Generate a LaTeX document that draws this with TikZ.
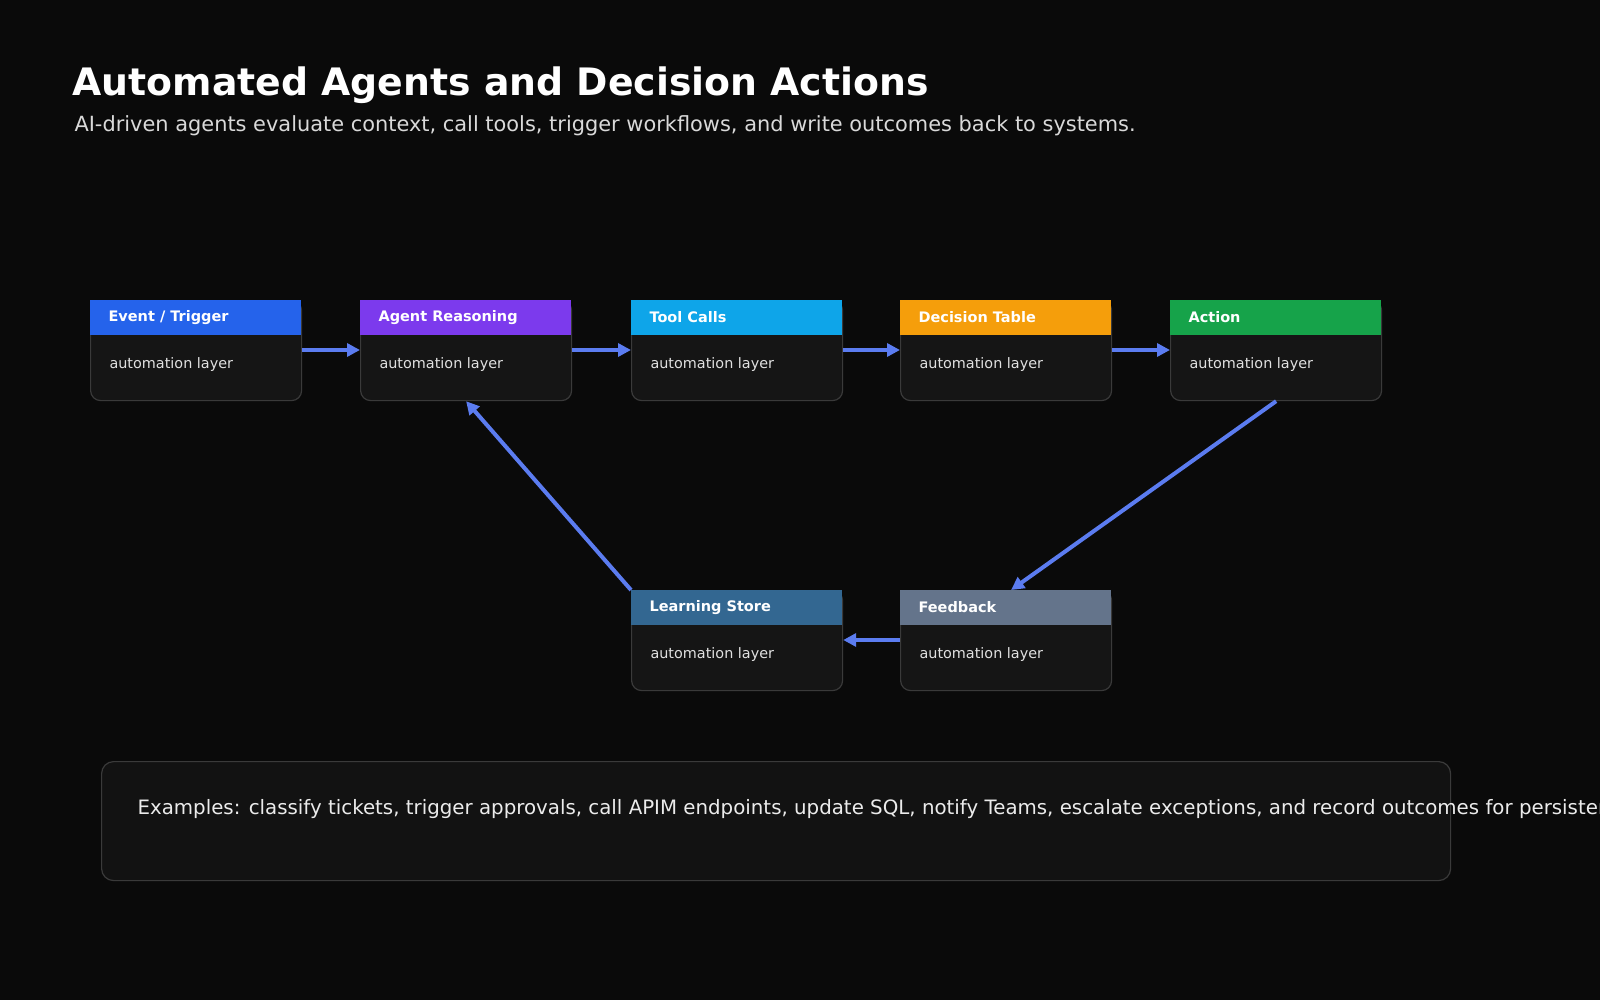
\documentclass[tikz,border=0pt]{standalone}
\usepackage{fontspec}
\setmainfont{DejaVu Sans}
\usetikzlibrary{positioning,calc,arrows.meta}
\definecolor{bg}{HTML}{0A0A0A}
\definecolor{card}{HTML}{151515}
\definecolor{edgec}{HTML}{3A3A3A}
\definecolor{flow}{HTML}{5B7CF0}
\definecolor{cEvent}{HTML}{2563EB}
\definecolor{cAgent}{HTML}{7C3AED}
\definecolor{cTool}{HTML}{0EA5E9}
\definecolor{cDecision}{HTML}{F59E0B}
\definecolor{cAction}{HTML}{16A34A}
\definecolor{cLearn}{HTML}{336791}
\definecolor{cFeed}{HTML}{64748B}
\tikzset{
  card/.style={draw=edgec,line width=1.2pt,fill=card,rounded corners=10pt,
    minimum width=211pt,minimum height=100pt,inner sep=0pt},
  htext/.style={font=\bfseries\fontsize{14.5}{16}\selectfont,text=white,anchor=west},
  btext/.style={font=\fontsize{14.4}{16}\selectfont,text=black!12,anchor=west},
  flowarrow/.style={draw=flow,line width=4pt,-{Triangle[length=13pt,width=13pt]}}
}
\begin{document}
\begin{tikzpicture}[x=1pt,y=-1pt]
  \fill[bg] (0,0) rectangle (1600,1000);
  \useasboundingbox (0,0) rectangle (1600,1000);
  \clip (0,0) rectangle (1600,1000);

  \node[anchor=base west,text=white,font=\bfseries\fontsize{37.8}{42}\selectfont] (title) at (69,96) {Automated Agents and Decision Actions};
  \node[anchor=base west,text=black!15,font=\fontsize{20.9}{24}\selectfont] (sub) at (71,132) {AI-driven agents evaluate context, call tools, trigger workflows, and write outcomes back to systems.};

  % cards
  \foreach \nm/\x/\y/\col/\lbl in {event/90/300/cEvent/{Event / Trigger}, agent/360/300/cAgent/Agent Reasoning,
      tool/631/300/cTool/Tool Calls, decision/900/300/cDecision/Decision Table, action/1170/300/cAction/Action,
      learn/631/590/cLearn/Learning Store, feed/900/590/cFeed/Feedback} {
    \node[card,anchor=north west] (\nm) at (\x,\y) {};
    \fill[\col] (\x,\y) rectangle ++(211,35);
    \node[htext] (\nm h) at (\x+15,\y+17.5) {\lbl};
    \node[btext] (\nm b) at (\x+16,\y+65) {automation layer};
  }

  \draw[flowarrow] (event.east |- 0,350) -- (agent.west |- 0,350);
  \draw[flowarrow] (agent.east |- 0,350) -- (tool.west |- 0,350);
  \draw[flowarrow] (tool.east |- 0,350) -- (decision.west |- 0,350);
  \draw[flowarrow] (decision.east |- 0,350) -- (action.west |- 0,350);
  \draw[flowarrow] (action.south) -- ($(feed.north)+(5,0)$);
  \draw[flowarrow] (feed.west |- 0,640) -- (learn.east |- 0,640);
  \draw[flowarrow] (learn.north west) -- (agent.south);

  % examples panel
  \node[draw=edgec,line width=1.2pt,fill=black!93,rounded corners=12pt,anchor=north west,
    minimum width=1349pt,minimum height=119pt,inner sep=0pt] (examples) at (101,761) {};
  \node[anchor=base west,text=black!8,font=\fontsize{19.8}{24}\selectfont] (extext) at (134,814)
    {Examples: classify tickets, trigger approvals, call APIM endpoints, update SQL, notify Teams, escalate exceptions, and record outcomes for persistent learning.};
\end{tikzpicture}
\end{document}
